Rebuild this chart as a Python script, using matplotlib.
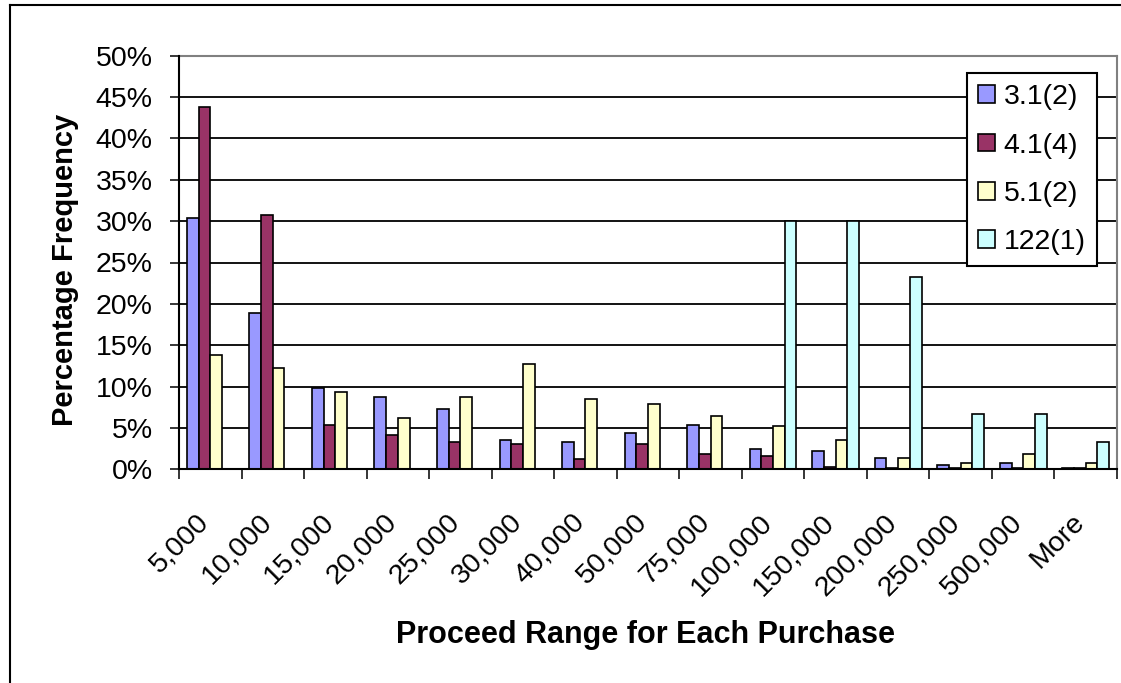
import matplotlib
matplotlib.use("Agg")
import matplotlib.pyplot as plt
from matplotlib.lines import Line2D
from matplotlib.ticker import PercentFormatter, FixedLocator

plt.rcParams['font.family'] = ['Liberation Sans', 'DejaVu Sans']

# Proceed range bins (upper bounds)
categories = ["5,000", "10,000", "15,000", "20,000", "25,000", "30,000", "40,000",
              "50,000", "75,000", "100,000", "150,000", "200,000", "250,000",
              "500,000", "More"]

# Percentage frequency of purchases per bin, one list per series
series_names = ["3.1(2)", "4.1(4)", "5.1(2)", "122(1)"]
s31 = [30.4, 18.9, 9.8, 8.7, 7.3, 3.6, 3.3, 4.4, 5.3, 2.5, 2.2, 1.4, 0.5, 0.8, 0.2]
s41 = [43.8, 30.8, 5.3, 4.1, 3.3, 3.1, 1.3, 3.1, 1.9, 1.6, 0.3, 0.2, 0.1, 0.2, 0.2]
s51 = [13.8, 12.3, 9.3, 6.2, 8.7, 12.7, 8.5, 7.9, 6.4, 5.2, 3.6, 1.4, 0.8, 1.9, 0.8]
s122 = [0, 0, 0, 0, 0, 0, 0, 0, 0, 30.0, 30.0, 23.3, 6.7, 6.7, 3.3]

colors = ["#9999FF", "#993366", "#FFFFCC", "#CCFFFF"]

W, H = 1121, 683
fig = plt.figure(figsize=(W / 100, H / 100), dpi=100)
fig.patch.set_facecolor("white")

left, right, top, bottom = 179, 1117, 55.7, 469.3
ax = fig.add_axes([left / W, 1 - bottom / H, (right - left) / W, (bottom - top) / H])

n = len(categories)
xs = list(range(n))
bw = 0.187
offsets = [-1.5 * bw, -0.5 * bw, 0.5 * bw, 1.5 * bw]
handles = []
for vals, name, col, off in zip([s31, s41, s51, s122], series_names, colors, offsets):
    h = ax.bar([x + off for x in xs], [v if v > 0 else float('nan') for v in vals],
               width=bw, color=col, edgecolor="black", linewidth=1.2,
               label=name, zorder=3)
    handles.append(h)

ax.set_xlim(-0.5, n - 0.5)
ax.set_ylim(0, 50)

# y axis
ax.set_yticks(range(0, 51, 5))
ax.yaxis.set_major_formatter(PercentFormatter(decimals=0))
ax.tick_params(axis="y", which="major", direction="out", length=6.5, width=1.1,
               pad=12.5, labelsize=20.5, color="black")
ax.yaxis.grid(True, color="black", linewidth=1.3, zorder=1)
ax.set_axisbelow(True)

# x axis: ticks on bin boundaries, labels at bin centres
ax.set_xticks(xs)
ax.set_xticklabels(categories)
ax.xaxis.set_minor_locator(FixedLocator([i - 0.5 for i in range(n + 1)]))
ax.tick_params(axis="x", which="major", length=0, pad=38.9, labelsize=20.5)
ax.tick_params(axis="x", which="minor", direction="out", length=7.2, width=1.1,
               color="black")
for lab in ax.get_xticklabels():
    lab.set_rotation(45)
    lab.set_ha("right")
    lab.set_va("baseline")
    lab.set_rotation_mode("anchor")

for side in ("left", "bottom"):
    ax.spines[side].set_color("black")
    ax.spines[side].set_linewidth(1.5)
    ax.spines[side].set_zorder(5)
for side in ("top", "right"):
    ax.spines[side].set_color("#808080")
    ax.spines[side].set_linewidth(1.5)

# axis titles
fig.text(65 / W, 1 - 270 / H, "Percentage Frequency", rotation=90,
         ha="center", va="center", fontsize=21, fontweight="bold")
fig.text(645.5 / W, 1 - 643 / H, "Proceed Range for Each Purchase",
         ha="center", va="baseline", fontsize=22, fontweight="bold")

# legend
leg = ax.legend(handles=handles, labels=series_names, loc="upper left",
                bbox_to_anchor=(967 / W, 1 - 73 / H), bbox_transform=fig.transFigure,
                borderaxespad=0, fontsize=20.5, frameon=True, fancybox=False,
                framealpha=1, edgecolor="black", handlelength=0.58,
                handleheight=0.58, handletextpad=0.3, borderpad=0.4,
                labelspacing=0.78)
leg.get_frame().set_linewidth(1.5)
leg.set_zorder(10)

# chart border (left and top edges visible)
fig.add_artist(Line2D([9.5 / W, 9.5 / W], [0, 1 - 5 / H], transform=fig.transFigure,
                      color="black", linewidth=1.5))
fig.add_artist(Line2D([9.5 / W, 1], [1 - 5 / H, 1 - 5 / H], transform=fig.transFigure,
                      color="black", linewidth=1.5))

fig.savefig("out.png", dpi=100)
